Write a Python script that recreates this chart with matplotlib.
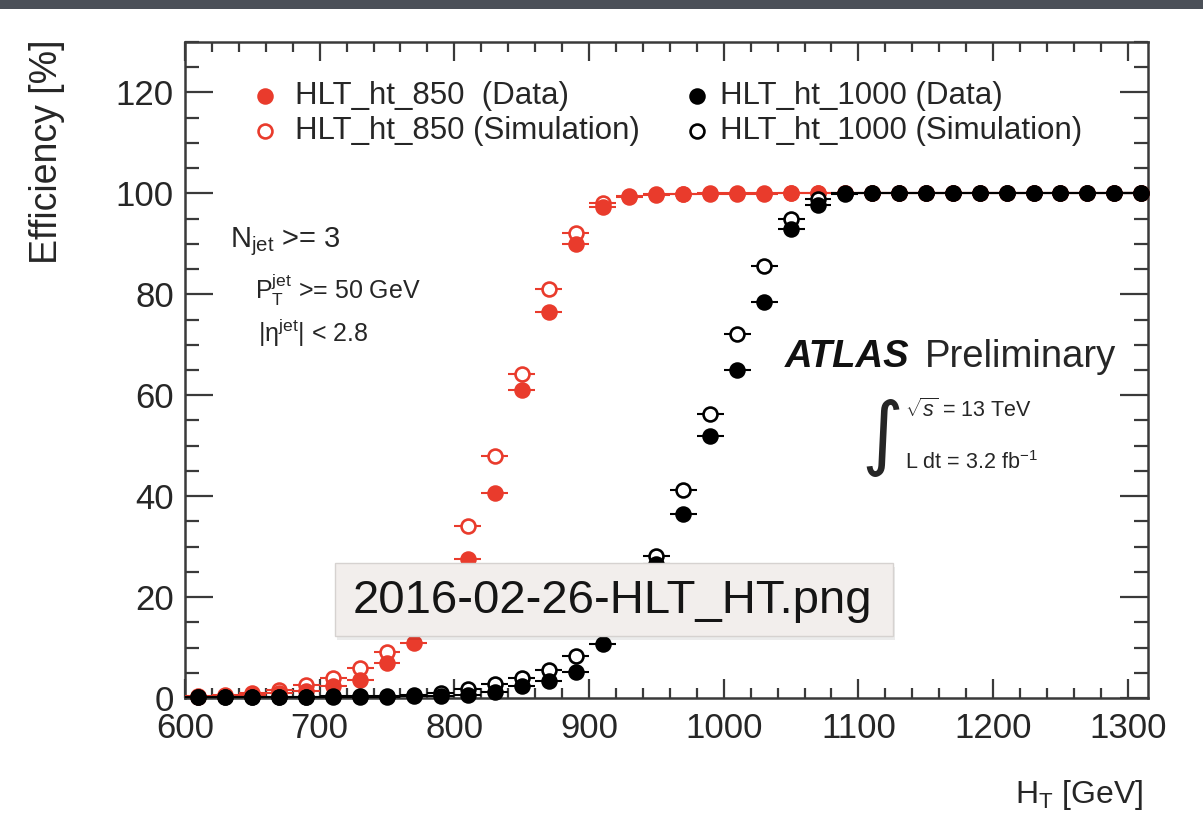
import matplotlib
matplotlib.use("Agg")
import matplotlib.pyplot as plt
from matplotlib.patches import Rectangle, FancyBboxPatch
from matplotlib.ticker import MultipleLocator

# ---------------- data ----------------
ht_bins = [610, 630, 650, 670, 690, 710, 730, 750, 770, 790,
           810, 830, 850, 870, 890, 910, 930, 950, 970, 990,
           1010, 1030, 1050, 1070, 1090, 1110, 1130, 1150, 1170, 1190,
           1210, 1230, 1250, 1270, 1290, 1310]

eff_850_data = [0.2, 0.3, 0.5, 0.9, 1.4, 2.3, 3.6, 7.0, 10.9, 18.0,
                27.5, 40.6, 61.0, 76.5, 90.0, 97.4, 99.3, 99.7, 99.8, 99.9,
                99.9, 99.9, 100, 100, 100, 100, 100, 100, 100, 100,
                100, 100, 100, 100, 100, 100]

eff_850_sim = [0.4, 0.6, 1.0, 1.6, 2.5, 3.9, 5.9, 9.2, 14.0, 21.5,
               34.0, 47.9, 64.3, 81.0, 92.1, 98.0, 99.5, 99.8, 99.9, 100,
               100, 100, 100, 100, 100, 100, 100, 100, 100, 100,
               100, 100, 100, 100, 100, 100]

eff_1000_data = [0.1, 0.1, 0.1, 0.1, 0.1, 0.2, 0.2, 0.2, 0.3, 0.4,
                 0.6, 1.1, 2.4, 3.3, 5.2, 10.7, 19.0, 26.5, 36.5, 52.0,
                 65.0, 78.4, 93.0, 97.6, 99.8, 100, 100, 100, 100, 100,
                 100, 100, 100, 100, 100, 100]

eff_1000_sim = [0.1, 0.1, 0.1, 0.2, 0.2, 0.3, 0.3, 0.4, 0.6, 1.0,
                1.8, 2.8, 3.9, 5.5, 8.4, 14.0, 21.0, 28.1, 41.2, 56.2,
                72.1, 85.7, 95.0, 98.8, 100, 100, 100, 100, 100, 100,
                100, 100, 100, 100, 100, 100]

legend_labels = ["HLT_ht_850  (Data)", "HLT_ht_850 (Simulation)",
                 "HLT_ht_1000 (Data)", "HLT_ht_1000 (Simulation)"]
x_ticks = [600, 700, 800, 900, 1000, 1100, 1200, 1300]
y_ticks = [0, 20, 40, 60, 80, 100, 120]
bin_half_width = 10

# ---------------- style ----------------
plt.rcParams["font.family"] = ["Liberation Sans", "DejaVu Sans"]
plt.rcParams["mathtext.fontset"] = "custom"
plt.rcParams["mathtext.rm"] = "Liberation Sans"
plt.rcParams["mathtext.it"] = "Liberation Sans:italic"
plt.rcParams["mathtext.bf"] = "Liberation Sans:bold"

W, H = 1203, 824
TEXT = "#262626"
AXC = "#3a3a3a"
RED = "#e93b2c"

fig = plt.figure(figsize=(W / 100, H / 100), dpi=100)
fig.patch.set_facecolor("white")

# dark window strip along the top edge
fig.add_artist(Rectangle((0, 1 - 9 / H), 1, 9 / H, transform=fig.transFigure,
                         facecolor="#4b5058", edgecolor="none", zorder=0))

AX_L, AX_R, AX_T, AX_B = 185, 1148, 42, 698
ax = fig.add_axes([AX_L / W, 1 - AX_B / H, (AX_R - AX_L) / W, (AX_B - AX_T) / H])


def px_to_axes(px, py):
    return (px - AX_L) / (AX_R - AX_L), (AX_B - py) / (AX_B - AX_T)


MS = 10


def draw_series(y, color, filled, z):
    line, caps, bars = ax.errorbar(ht_bins, y, xerr=bin_half_width, fmt="o",
                                   ms=MS, mfc=color if filled else "white",
                                   mec=color, mew=1.9, ecolor=color,
                                   elinewidth=1.5, capsize=0, zorder=z)
    line.set_clip_on(False)
    for b in bars:
        b.set_clip_on(True)


draw_series(eff_850_sim, RED, False, 3)
draw_series(eff_850_data, RED, True, 4)
draw_series(eff_1000_sim, "black", False, 5)
draw_series(eff_1000_data, "black", True, 6)

ax.set_xlim(600, 1315)
ax.set_ylim(0, 130)
ax.set_xticks(x_ticks)
ax.set_yticks(y_ticks)
ax.xaxis.set_minor_locator(MultipleLocator(20))
ax.yaxis.set_minor_locator(MultipleLocator(5))
ax.tick_params(axis="both", which="both", direction="in", top=True, right=True,
               colors=AXC, labelcolor=TEXT, width=1.6)
ax.tick_params(axis="x", which="major", length=14, labelsize=25, pad=10)
ax.tick_params(axis="x", which="minor", length=7)
ax.tick_params(axis="y", which="major", length=20, labelsize=25, pad=8)
ax.tick_params(axis="y", which="minor", length=10)
for sp in ax.spines.values():
    sp.set_color(AXC)
    sp.set_linewidth(1.8)

fig.text(47 / W, 1 - 40 / H, "Efficiency [%]", rotation=90, ha="center",
         va="top", fontsize=27, color=TEXT)
fig.text(1143 / W, 1 - 795 / H, r"H$_{\mathrm{T}}$ [GeV]", ha="right",
         va="center", fontsize=23, color=TEXT)

# legend, two columns
legend_items = [(265, 96, RED, True, 295), (265, 131, RED, False, 295),
                (697, 96, "black", True, 720), (697, 131, "black", False, 720)]
for (mx, my, c, filled, tx), label in zip(legend_items, legend_labels):
    fx, fy = px_to_axes(mx, my)
    ax.plot([fx], [fy], "o", ms=MS, mfc=c if filled else "white", mec=c,
            mew=1.9, transform=ax.transAxes, clip_on=False, zorder=7)
    tfx, _ = px_to_axes(tx, my)
    ax.text(tfx, fy, label, transform=ax.transAxes, ha="left", va="center",
            fontsize=22.5, color=TEXT)


def put(px, py, s, color=TEXT, **kw):
    fx, fy = px_to_axes(px, py)
    ax.text(fx, fy, s, transform=ax.transAxes, color=color, **kw)


# selection cuts
put(230, 247, r"N$_{\mathrm{jet}}$ >= 3", fontsize=21, va="baseline")
put(255, 299, r"P$_{\mathrm{T}}^{\mathrm{jet}}$ >= 50 GeV", fontsize=18, va="baseline")
put(258, 342, r"|η$^{\mathrm{jet}}$| < 2.8", fontsize=18, va="baseline")

# experiment label
put(785, 367, "ATLAS", fontsize=27.5, fontweight="bold", fontstyle="italic",
    va="baseline", color="#111111")
put(925, 367, "Preliminary", fontsize=27.5, va="baseline")
put(905, 417, r"$\sqrt{s}$ = 13 TeV", fontsize=15.5, va="baseline")
put(905, 469, r"L dt = 3.2 fb$^{-1}$", fontsize=15.5, va="baseline")
put(882, 438, "∫", fontsize=58, ha="center", va="center",
    family=["DejaVu Sans"])

# file-name tooltip overlay
bx0, by0, bx1, by1 = 335, 563, 893, 636
fig.add_artist(FancyBboxPatch((bx0 / W + 0.002, 1 - (by1 + 4) / H),
                              (bx1 - bx0) / W, (by1 - by0) / H,
                              boxstyle="square,pad=0", transform=fig.transFigure,
                              facecolor="#000000", alpha=0.08, edgecolor="none",
                              zorder=19))
fig.add_artist(FancyBboxPatch((bx0 / W, 1 - by1 / H), (bx1 - bx0) / W,
                              (by1 - by0) / H, boxstyle="square,pad=0",
                              transform=fig.transFigure, facecolor="#f2eeec",
                              edgecolor="#d6d2d0", linewidth=1.0, zorder=20))
fig.text((bx0 + bx1) / 2 / W - 2 / W, 1 - 601 / H, "2016-02-26-HLT_HT.png",
         ha="center", va="center", fontsize=34, color="#151515", zorder=21)

fig.savefig("out.png", dpi=100)
